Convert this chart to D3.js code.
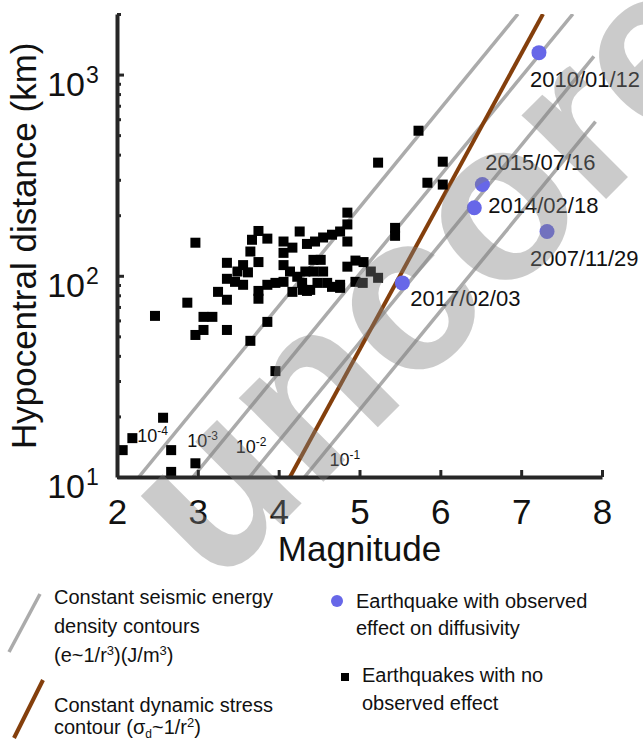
<!DOCTYPE html>
<html>
<head>
<meta charset="utf-8">
<script src="https://cdn.jsdelivr.net/npm/d3@7"></script>
<style>
  body { margin: 0; background: #fff; }
  text { font-family: "Liberation Sans", Arial, sans-serif; fill: #111; }
</style>
</head>
<body>
<div id="chart"></div>
<script>
// Chart size
const width = 643;
const height = 740;
const margin = { top: 14, right: 41, bottom: 263, left: 117 };

// Axis ticks
const magTicks = [2, 3, 4, 5, 6, 7, 8];
const distTicks = [10, 100, 1000];
const distExp = ["1", "2", "3"];
const distMinor = [20, 30, 40, 50, 60, 70, 80, 90, 200, 300, 400, 500, 600, 700, 800, 900, 2000];

// Earthquakes with no observed effect
const noEffectMag = [2.07, 2.19, 2.57, 2.67, 2.67, 2.97, 3.96, 3.65, 3.86, 3.36, 3.07, 2.97, 2.47, 3.07, 3.18,
  2.87, 3.25, 3.36, 2.97, 3.75, 3.67, 3.86, 3.65, 3.75, 3.36, 3.56, 3.49, 3.62, 3.36, 3.46, 3.56, 4.06, 4.17,
  4.26, 4.06, 4.35, 4.06, 4.14, 3.86, 3.96, 4.06, 3.75, 3.75, 4.17, 4.29, 4.35, 4.45, 4.55, 4.66, 4.76, 4.85,
  4.85, 4.85, 4.52, 4.43, 4.55, 4.43, 4.33, 4.23, 4.48, 4.60, 4.66, 4.76, 4.85, 4.95, 5.05, 5.14, 5.23, 4.95,
  5.04, 5.44, 5.44, 5.73, 5.23, 6.03, 5.84, 6.03, 4.30, 4.39, 4.76];
const noEffectDist = [13.6, 15.6, 19.7, 13.6, 10.6, 11.7, 33.6, 47.5, 59.0, 53.8, 53.8, 50.8, 63.2, 62.5, 62.5,
  73.5, 83.2, 76.0, 146, 167, 151, 153, 132, 117, 116, 113, 105, 104, 96.6, 93.3, 90.2, 148, 138,
  166, 130, 144, 113, 105, 90.2, 92.2, 93.3, 84.1, 76.9, 83.2, 92.2, 84.1, 148, 155, 160, 166, 180,
  206, 148, 120, 120, 105, 105, 105, 98.9, 92.2, 92.2, 88.1, 90.2, 111, 119, 117, 105, 97.7, 93.3,
  92.2, 173, 158, 526, 365, 369, 290, 284, 85.1, 85.1, 87.1];

// Earthquakes with observed effect on diffusivity
const effectDates = ["2010/01/12", "2015/07/16", "2014/02/18", "2007/11/29", "2017/02/03"];
const effectMag = [7.22, 6.52, 6.42, 7.32, 5.53];
const effectDist = [1285, 284, 218, 166, 92.2];

// Seismic energy density contours (J/m^3): [magnitude, distance] end points
const contourExp = ["-4", "-3", "-2", "-1"];
const contourStart = [[2.27, 10], [2.94, 10], [3.64, 10], [4.32, 10]];
const contourEnd = [[6.96, 2000], [7.64, 2000], [7.90, 1230], [7.92, 583]];
// Dynamic stress contour
const stressLine = [[4.14, 10], [7.27, 2000]];

const svg = d3.select("#chart")
  .append("svg")
  .attr("width", width)
  .attr("height", height);

const x = d3.scaleLinear()
  .domain([2, 8])
  .range([margin.left, width - margin.right]);

const y = d3.scaleLog()
  .domain([10, 2000])
  .range([height - margin.bottom, margin.top]);

svg.append("clipPath")
  .attr("id", "plot")
  .append("rect")
  .attr("x", margin.left)
  .attr("y", margin.top)
  .attr("width", width - margin.right - margin.left)
  .attr("height", height - margin.bottom - margin.top);

const line = d3.line().x(d => x(d[0])).y(d => y(d[1]));

const plot = svg.append("g").attr("clip-path", "url(#plot)");

// Energy density contours
plot.selectAll(".contour")
  .data(contourStart.map((d, i) => [d, contourEnd[i]]))
  .enter()
  .append("path")
  .attr("class", "contour")
  .attr("d", line)
  .attr("fill", "none")
  .attr("stroke", "#ababab")
  .attr("stroke-width", 3.5);

// Dynamic stress contour
plot.append("path")
  .datum(stressLine)
  .attr("d", line)
  .attr("fill", "none")
  .attr("stroke", "#843f0c")
  .attr("stroke-width", 4);

// No effect squares
const sq = 10;
plot.selectAll(".sq")
  .data(noEffectMag)
  .enter()
  .append("rect")
  .attr("class", "sq")
  .attr("x", (d) => x(d) - sq / 2)
  .attr("y", (d, i) => y(noEffectDist[i]) - sq / 2)
  .attr("width", sq)
  .attr("height", sq)
  .attr("fill", "#000");

// Observed effect dots
plot.selectAll(".dot")
  .data(effectMag)
  .enter()
  .append("circle")
  .attr("class", "dot")
  .attr("cx", (d) => x(d))
  .attr("cy", (d, i) => y(effectDist[i]))
  .attr("r", 7.5)
  .attr("fill", "#6767e8");

// Date labels (pixel offsets from their dot)
const dateOffset = [[-9, 34], [3, -15], [14, 5], [-17, 35], [8, 23]];
svg.selectAll(".date")
  .data(effectDates)
  .enter()
  .append("text")
  .attr("class", "date")
  .attr("x", (d, i) => x(effectMag[i]) + dateOffset[i][0])
  .attr("y", (d, i) => y(effectDist[i]) + dateOffset[i][1])
  .attr("font-size", 22)
  .text((d) => d);

// Contour labels
const contourLabelAt = [[2.25, 14.9], [2.87, 14.1], [3.47, 13.2], [4.63, 11.3]];
contourExp.forEach((e, i) => {
  const t = svg.append("text")
    .attr("x", x(contourLabelAt[i][0]))
    .attr("y", y(contourLabelAt[i][1]))
    .attr("font-size", 18);
  t.append("tspan").text("10");
  t.append("tspan").attr("font-size", 12).attr("dy", -7).text(e);
});

// Axes
const xAxis = svg.append("g")
  .attr("transform", `translate(0, ${height - margin.bottom})`)
  .call(d3.axisBottom(x).tickValues(magTicks).tickFormat(d3.format("d"))
    .tickSizeInner(-7).tickSizeOuter(0).tickPadding(22));

xAxis.selectAll("text").attr("font-size", 35).attr("dy", "0.71em");

svg.append("g")
  .attr("transform", `translate(${margin.left}, 0)`)
  .call(d3.axisLeft(y).tickValues(distTicks).tickSizeInner(-7).tickSizeOuter(0).tickFormat(""));

svg.append("g")
  .attr("transform", `translate(${margin.left}, 0)`)
  .call(d3.axisLeft(y).tickValues(distMinor).tickSizeInner(-4).tickSizeOuter(0).tickFormat(""))
  .select(".domain").remove();

svg.selectAll(".domain").attr("stroke", "#262626").attr("stroke-width", 4);
svg.selectAll(".tick line").attr("stroke", "#262626").attr("stroke-width", 3);

distTicks.forEach((d, i) => {
  svg.append("text")
    .attr("x", 85)
    .attr("y", y(d) + 21)
    .attr("text-anchor", "end")
    .attr("font-size", 34)
    .text("10");
  svg.append("text")
    .attr("x", 86)
    .attr("y", y(d) + 8)
    .attr("font-size", 23)
    .text(distExp[i]);
});

// Axis titles
svg.append("text")
  .attr("x", x(5))
  .attr("y", 561)
  .attr("text-anchor", "middle")
  .attr("font-size", 35)
  .text("Magnitude");

svg.append("text")
  .attr("transform", `translate(36, ${y(100) - 30}) rotate(-90)`)
  .attr("text-anchor", "middle")
  .attr("font-size", 35)
  .text("Hypocentral distance (km)");

// Legend
const legend = svg.append("g");
legend.append("line")
  .attr("x1", 40).attr("y1", 594).attr("x2", 9).attr("y2", 652)
  .attr("stroke", "#ababab").attr("stroke-width", 3.5);
legend.append("line")
  .attr("x1", 43).attr("y1", 680).attr("x2", 14).attr("y2", 738)
  .attr("stroke", "#843f0c").attr("stroke-width", 4);
legend.append("circle")
  .attr("cx", 337).attr("cy", 601).attr("r", 6).attr("fill", "#6767e8");
legend.append("rect")
  .attr("x", 341).attr("y", 673).attr("width", 8).attr("height", 8).attr("fill", "#000");

const legendLines = [
  [54, 604, "Constant seismic energy"],
  [54, 633, "density contours"],
  [356, 608, "Earthquake with observed"],
  [356, 635, "effect on diffusivity"],
  [362, 682, "Earthquakes with no"],
  [362, 710, "observed effect"],
  [54, 712, "Constant dynamic stress"]
];
legend.selectAll(".lg")
  .data(legendLines)
  .enter()
  .append("text")
  .attr("class", "lg")
  .attr("x", (d) => d[0])
  .attr("y", (d) => d[1])
  .attr("font-size", 20)
  .text((d) => d[2]);

const e1 = legend.append("text").attr("x", 54).attr("y", 662).attr("font-size", 20);
e1.append("tspan").text("(e~1/r");
e1.append("tspan").attr("font-size", 13).attr("dy", -7).text("3");
e1.append("tspan").attr("dy", 7).text(")(J/m");
e1.append("tspan").attr("font-size", 13).attr("dy", -7).text("3");
e1.append("tspan").attr("dy", 7).text(")");

const e2 = legend.append("text").attr("x", 54).attr("y", 734).attr("font-size", 20);
e2.append("tspan").text("contour (σ");
e2.append("tspan").attr("font-size", 12).attr("dy", 4).text("d");
e2.append("tspan").attr("dy", -4).text("~1/r");
e2.append("tspan").attr("font-size", 13).attr("dy", -7).text("2");
e2.append("tspan").attr("dy", 7).text(")");

// Watermark
svg.append("text")
  .attr("transform", "translate(215, 590) rotate(-45)")
  .attr("font-family", "Liberation Serif, serif")
  .attr("font-weight", "bold")
  .attr("font-size", 225)
  .style("fill", "#808080")
  .attr("opacity", 0.4)
  .text("uncore");
</script>
</body>
</html>
